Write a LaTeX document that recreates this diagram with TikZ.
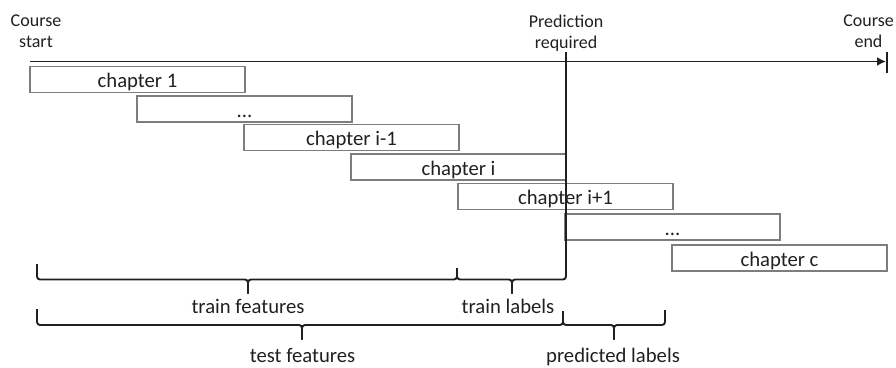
\documentclass[tikz,border=0pt]{standalone}
\usepackage{fontspec}
\setmainfont{Carlito}
\usetikzlibrary{arrows.meta}
\definecolor{boxgray}{RGB}{125,125,125}
\definecolor{ink}{RGB}{32,32,32}
\newcommand\updownbrace[7]{% x1, ytopL, x2, ytopR, xm, yline, ytip
  \draw[bracel] (#1,#2) -- (#1,#6) -- (#5,#6) -- (#5,#7);
  \draw[bracel] (#3,#4) -- (#3,#6) -- (#5,#6) -- (#5,#7);
}
\begin{document}
\begin{tikzpicture}[x=1pt,y=-1pt,
  chapbox/.style={draw=boxgray, line width=1.6pt, minimum width=215pt, minimum height=26pt,
    inner sep=0pt, text height=18pt, text depth=2pt, font=\fontsize{20.7}{24}\selectfont, text=ink},
  toplabel/.style={align=center, font=\fontsize{18}{21}\selectfont, inner sep=0pt, anchor=north, text=ink},
  bottomlabel/.style={font=\fontsize{20.7}{24}\selectfont, inner sep=0pt, anchor=base, text=ink},
  bracel/.style={line width=1.9pt, draw=ink, rounded corners=3pt},
  axisline/.style={line width=1.9pt, draw=ink}]
\useasboundingbox (0,0) rectangle (896,367);

% top labels
\node[toplabel] (cstart) at (36,15) {Course\\start};
\node[toplabel] (pred) at (566,15) {Prediction\\required};
\node[toplabel] (cend) at (868.5,15) {Course\\end};

% timeline
\coordinate (tl0) at (30,61.5);
\coordinate (tl1) at (886,61.5);
\coordinate (tickA) at (887,52);
\coordinate (tickB) at (887,73);
\draw[axisline, -{Latex[length=9pt,width=9pt]}] (tl0) -- (tl1);
\draw[axisline, line width=1.4pt] (tickA) -- (tickB);

% chapter boxes
\node[chapbox] (ch1) at (137.5,79.5) {chapter 1};
\node[chapbox] (ch2) at (244.5,109) {...};
\node[chapbox] (ch3) at (351.5,137.5) {chapter i-1};
\node[chapbox] (ch4) at (458.5,167) {chapter i};
\node[chapbox] (ch5) at (565.5,196.5) {chapter i+1};
\node[chapbox] (ch6) at (672.5,227) {...};
\node[chapbox] (ch7) at (779.5,258) {chapter c};

% prediction line
\coordinate (prTop) at (566,52);
\coordinate (prBot) at (566,276);
\draw[axisline] (prTop) -- (prBot);

% braces
\updownbrace{37}{264}{457}{268}{248}{279.5}{293.5}
\updownbrace{457}{268}{566}{262}{512}{279.5}{293.5}
\updownbrace{37}{309}{563}{311}{302}{325}{339.5}
\updownbrace{563}{311}{665}{310}{614}{325}{339.5}

% bottom labels
\node[bottomlabel] (trf) at (248,313) {train features};
\node[bottomlabel] (trl) at (508,313) {train labels};
\node[bottomlabel] (tef) at (302.5,362) {test features};
\node[bottomlabel] (prl) at (613,362) {predicted labels};
\end{tikzpicture}
\end{document}
